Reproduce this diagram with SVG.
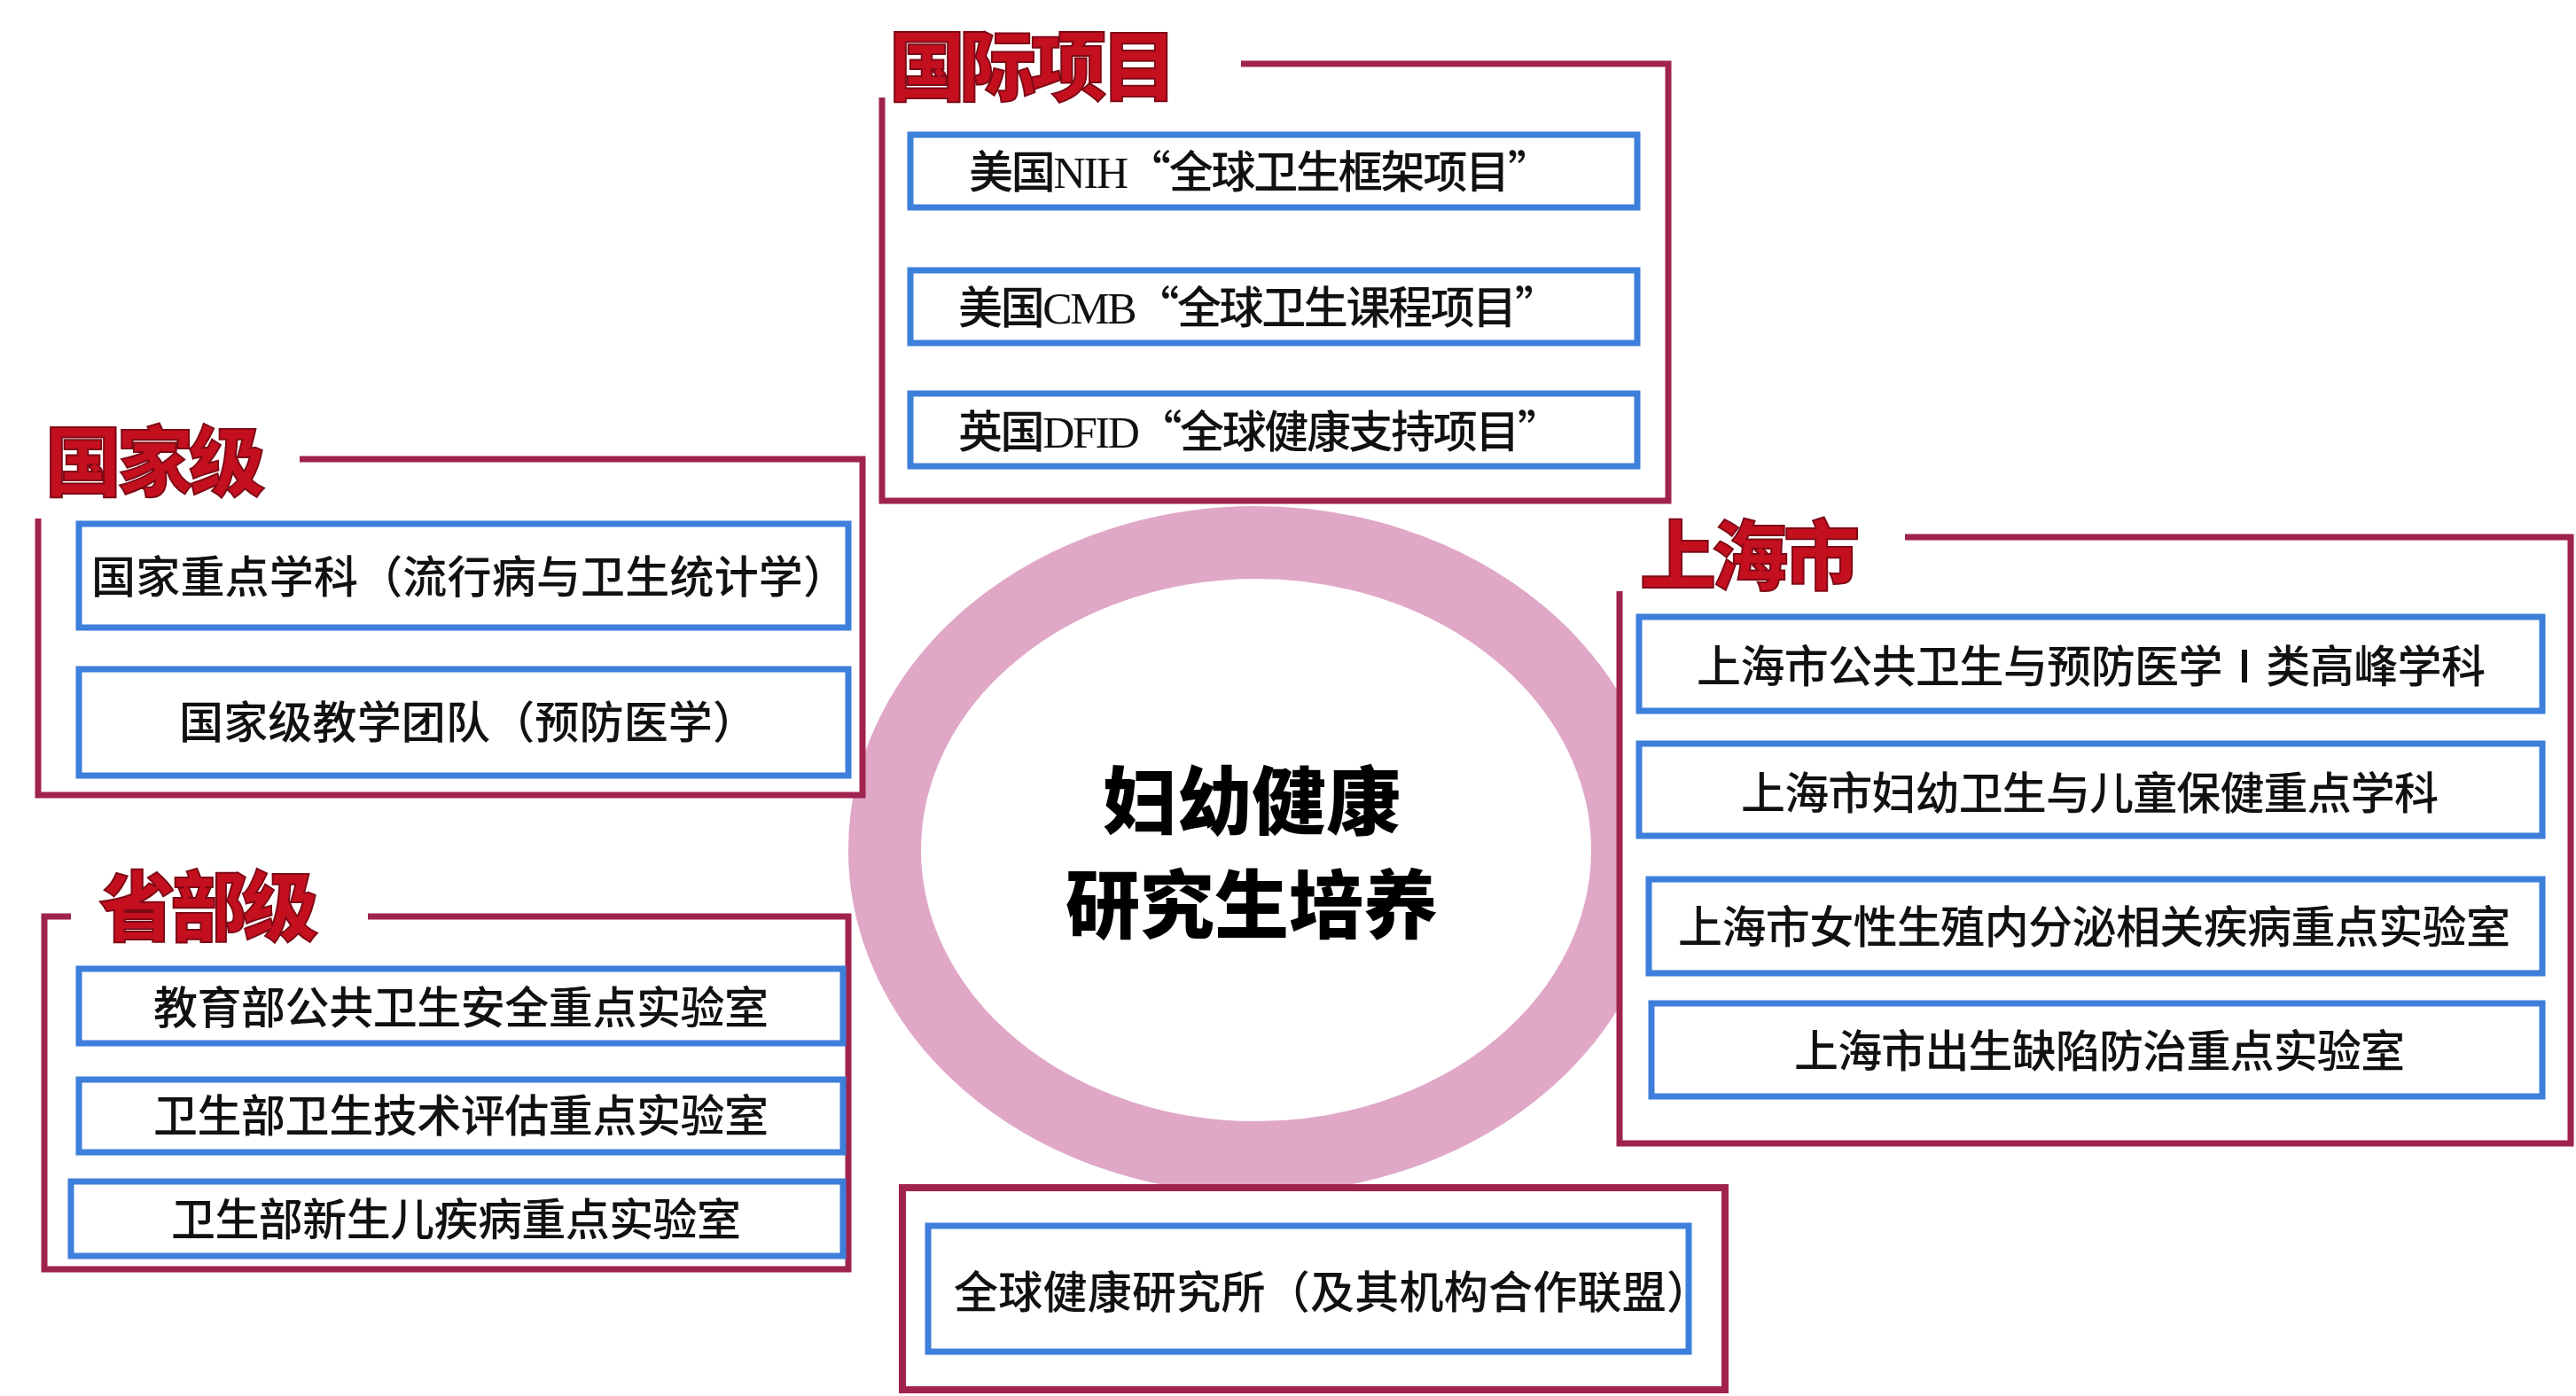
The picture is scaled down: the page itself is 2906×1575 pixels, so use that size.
<svg xmlns="http://www.w3.org/2000/svg" width="2906" height="1575" viewBox="0 0 2906 1575">
<style>
.frame{fill:none;stroke:#A0234F;stroke-width:7;stroke-linejoin:miter}
.bg{fill:#ffffff;stroke:none}
.box{fill:#ffffff;stroke:#3D7FDA;stroke-width:7}
.bt{font-family:"Noto Sans CJK SC","Noto Sans",sans-serif;font-size:50px;font-weight:500;fill:#111111}
.lat{font-family:"Liberation Serif","Noto Sans CJK SC",serif;font-weight:400}
.title{font-family:"Noto Sans CJK SC",sans-serif;font-size:86px;font-weight:900;fill:#C40F1F;stroke:#7E0A16;stroke-width:2}
.center{font-family:"Noto Sans CJK SC",sans-serif;font-size:84px;font-weight:900;fill:#000000;text-anchor:middle}
</style>
<rect width="2906" height="1575" fill="#ffffff"/>
<g id="hub">
<ellipse cx="1417" cy="959" rx="419" ry="347" fill="#ffffff" stroke="#E0A7C7" stroke-width="82"/>
<text class="center" x="1412" y="935">妇幼健康</text>
<text class="center" x="1412" y="1052">研究生培养</text>
</g>
<g id="international">
<rect class="bg" x="995" y="72" width="887" height="493"/>
<path class="frame" d="M1400,72 H1882 V565 H995 V110"/>
<text class="title" x="1003" y="107" textLength="325">国际项目</text>
<g id="intl-nih"><rect class="box" x="1027" y="152" width="820" height="82"/><text class="bt" x="1093" y="212" textLength="658">美国<tspan class="lat">NIH</tspan>“全球卫生框架项目”</text></g>
<g id="intl-cmb"><rect class="box" x="1027" y="305" width="820" height="82"/><text class="bt" x="1081" y="365" textLength="678">美国<tspan class="lat">CMB</tspan>“全球卫生课程项目”</text></g>
<g id="intl-dfid"><rect class="box" x="1027" y="444" width="820" height="82"/><text class="bt" x="1081" y="505" textLength="681">英国<tspan class="lat">DFID</tspan>“全球健康支持项目”</text></g>
</g>
<g id="national">
<rect class="bg" x="43" y="518" width="930" height="379"/>
<path class="frame" d="M338,518 H973 V897 H43 V585"/>
<text class="title" x="51" y="553" textLength="248">国家级</text>
<g id="nat-discipline"><rect class="box" x="89" y="591" width="868" height="117"/><text class="bt" x="103" y="669" textLength="853">国家重点学科（流行病与卫生统计学）</text></g>
<g id="nat-team"><rect class="box" x="89" y="755" width="868" height="120"/><text class="bt" x="202" y="833" textLength="652">国家级教学团队（预防医学）</text></g>
</g>
<g id="provincial">
<rect class="bg" x="50" y="1034" width="907" height="398"/>
<path class="frame" d="M80,1034 H50 V1432 H957 V1034 H415"/>
<text class="title" x="112" y="1055" textLength="247">省部级</text>
<g id="prov-moe"><rect class="box" x="89" y="1093" width="862" height="84"/><text class="bt" x="173" y="1155" textLength="694">教育部公共卫生安全重点实验室</text></g>
<g id="prov-hta"><rect class="box" x="89" y="1218" width="862" height="82"/><text class="bt" x="173" y="1277" textLength="694">卫生部卫生技术评估重点实验室</text></g>
<g id="prov-newborn"><rect class="box" x="80" y="1333" width="871" height="84"/><text class="bt" x="193" y="1394" textLength="643">卫生部新生儿疾病重点实验室</text></g>
</g>
<g id="shanghai">
<rect class="bg" x="1827" y="606" width="1073" height="684"/>
<path class="frame" d="M2149,606 H2900 V1290 H1827 V667"/>
<text class="title" x="1850" y="659" textLength="248">上海市</text>
<g id="sh-peak"><rect class="box" x="1849" y="696" width="1019" height="106"/><text class="bt" x="1914" y="770" textLength="890">上海市公共卫生与预防医学Ⅰ类高峰学科</text></g>
<g id="sh-mch"><rect class="box" x="1849" y="839" width="1019" height="104"/><text class="bt" x="1964" y="913" textLength="787">上海市妇幼卫生与儿童保健重点学科</text></g>
<g id="sh-repro"><rect class="box" x="1860" y="992" width="1008" height="106"/><text class="bt" x="1893" y="1064" textLength="939">上海市女性生殖内分泌相关疾病重点实验室</text></g>
<g id="sh-birth"><rect class="box" x="1863" y="1132" width="1005" height="105"/><text class="bt" x="2024" y="1204" textLength="689">上海市出生缺陷防治重点实验室</text></g>
</g>
<g id="global-institute">
<rect x="1018" y="1340" width="928" height="228" fill="#ffffff" stroke="#A0234F" stroke-width="8"/>
<rect class="box" x="1047" y="1383" width="858" height="142"/>
<text class="bt" x="1076" y="1476" textLength="854">全球健康研究所（及其机构合作联盟）</text>
</g>
<g id="connectors"/>
</svg>
